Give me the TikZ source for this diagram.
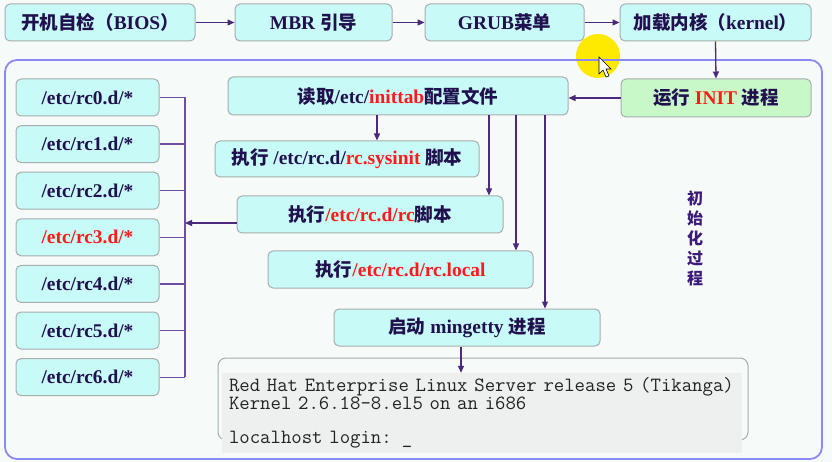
\documentclass[tikz,border=0pt]{standalone}
\usepackage{fontspec}
\setmainfont{Liberation Serif}[Scale=1.05]
\newfontfamily\zhfont{Noto Sans CJK SC}
\usetikzlibrary{arrows.meta}

\definecolor{pagebg}{HTML}{F6FAF8}
\definecolor{boxfill}{HTML}{C8FAF7}
\definecolor{initfill}{HTML}{C8F8C8}
\definecolor{boxline}{HTML}{A6AEAE}
\definecolor{boxtext}{HTML}{20104E}
\definecolor{hlred}{HTML}{FF1A1A}
\definecolor{arrowcol}{HTML}{4A2A7C}
\definecolor{buscol}{HTML}{6E4E9E}
\definecolor{framecol}{HTML}{8A8AF2}
\definecolor{termbg}{HTML}{EEF0EF}
\definecolor{termtext}{HTML}{222222}
\definecolor{sidecol}{HTML}{3C1A78}

\newcommand\zh[1]{{\zhfont #1}}
\newcommand\hl[1]{\textcolor{hlred}{#1}}

\tikzset{
	stepbox/.style={draw=boxline, line width=1pt, fill=boxfill, rounded corners=5pt,
		minimum height=37pt, inner sep=0pt, text=boxtext,
		font=\fontsize{18.5}{20}\selectfont\bfseries},
	rcbox/.style={stepbox, minimum width=143pt},
	arr/.style={draw=arrowcol, line width=1.3pt, -{Triangle[length=7pt,width=6pt]}},
	busline/.style={draw=buscol, line width=1.2pt},
}

\begin{document}
\begin{tikzpicture}[x=1pt,y=-1pt]
	\fill[pagebg] (0,0) rectangle (832,462);
	\useasboundingbox (0,0) rectangle (832,462);
	
	% highlight and outer frame
	\fill[yellow!92!orange] (598,56) circle (22pt);
	\draw[framecol, line width=1.8pt, rounded corners=12pt] (5,60) rectangle (822,459);
	
	% boot chain
	\node[stepbox, minimum width=190pt] (bios) at (100,22.5) {\zh{开机自检（}BIOS\zh{）}};
	\node[stepbox, minimum width=157pt] (mbr) at (313.5,22.5) {MBR \zh{引导}};
	\node[stepbox, minimum width=159pt] (grub) at (504.5,22.5) {GRUB\zh{菜单}};
	\node[stepbox, minimum width=191pt] (kernel) at (715.5,22.5) {\zh{加载内核（}kernel\zh{）}};
	\node[stepbox, fill=initfill, minimum width=190pt, minimum height=38pt] (init) at (716,98) {\zh{运行} \hl{INIT} \zh{进程}};
	
	% init steps
	\node[stepbox, minimum width=340pt, minimum height=38pt] (inittab) at (398,96) {\zh{读取}/etc/\hl{inittab}\zh{配置文件}};
	\node[stepbox, minimum width=264pt, minimum height=36pt] (sysinit) at (347,159) {\zh{执行} /etc/rc.d/\hl{rc.sysinit} \zh{脚本}};
	\node[stepbox, minimum width=266pt] (rcscript) at (370,214.5) {\zh{执行}\hl{/etc/rc.d/rc}\zh{脚本}};
	\node[stepbox, minimum width=265pt] (rclocal) at (400.5,269.5) {\zh{执行}\hl{/etc/rc.d/rc.local}};
	\node[stepbox, minimum width=266pt] (mingetty) at (467,327.5) {\zh{启动} mingetty \zh{进程}};
	
	% run levels
	\foreach \i/\col in {0/boxtext,1/boxtext,2/boxtext,3/hlred,4/boxtext,5/boxtext,6/boxtext}
		\node[rcbox, text=\col] (rc\i) at (87.5,{97.5+46.6*\i}) {/etc/rc\i.d/*};
	
	% login screen
	\node[draw=boxline, line width=1pt, rounded corners=8pt, minimum width=530pt,
		minimum height=82pt, inner sep=0pt] (termframe) at (483,399) {};
	\node[fill=termbg, minimum width=520pt, minimum height=80pt, text width=506pt,
		inner xsep=7pt, inner ysep=0pt, align=left, text=termtext,
		font=\fontsize{20.2}{17}\ttfamily] (term) at (482,413)
		{Red Hat Enterprise Linux Server release 5 (Tikanga)\\Kernel 2.6.18-8.el5 on an i686\\[17pt]localhost login: \_};
	
	\node[text=sidecol, align=center, font=\fontsize{16}{20}\selectfont\zhfont\bfseries] (side) at (695,238) {初\\始\\化\\过\\程};
	
	% arrows
	\draw[arr] (bios.east) -- (mbr.west);
	\draw[arr] (mbr.east) -- (grub.west);
	\draw[arr] (grub.east) -- (kernel.west);
	\draw[arr] (kernel.south) -- (init.north);
	\draw[arr] (init.west) -- (init.west -| inittab.east);
	\draw[arr] ([xshift=-21pt]inittab.south) -- ([xshift=30pt]sysinit.north);
	\draw[arr] ([xshift=91pt]inittab.south) -- ([xshift=119pt]rcscript.north);
	\draw[arr] ([xshift=118pt]inittab.south) -- ([xshift=115.5pt]rclocal.north);
	\draw[arr] ([xshift=147pt]inittab.south) -- ([xshift=78pt]mingetty.north);
	\draw[arr] ([xshift=-6pt]mingetty.south) -- ([xshift=-21pt]term.north);
	
	% bus to run levels
	\coordinate (bus) at (185,0);
	\foreach \i in {0,...,6}
		\draw[busline] (rc\i.east) -- (rc\i.east -| bus);
	\draw[busline] (rc0.east -| bus) -- (rc6.east -| bus);
	\draw[arr] ([yshift=-8.5pt]rcscript.west) -- ([yshift=-8.5pt]rcscript.west -| bus);
	
	% pointer
	\draw[black, fill=white, line width=0.6pt] (599,57) -- (599,74) -- (603,70) -- (606,77) -- (609,76) -- (606,69) -- (611,69) -- cycle;
\end{tikzpicture}
\end{document}
